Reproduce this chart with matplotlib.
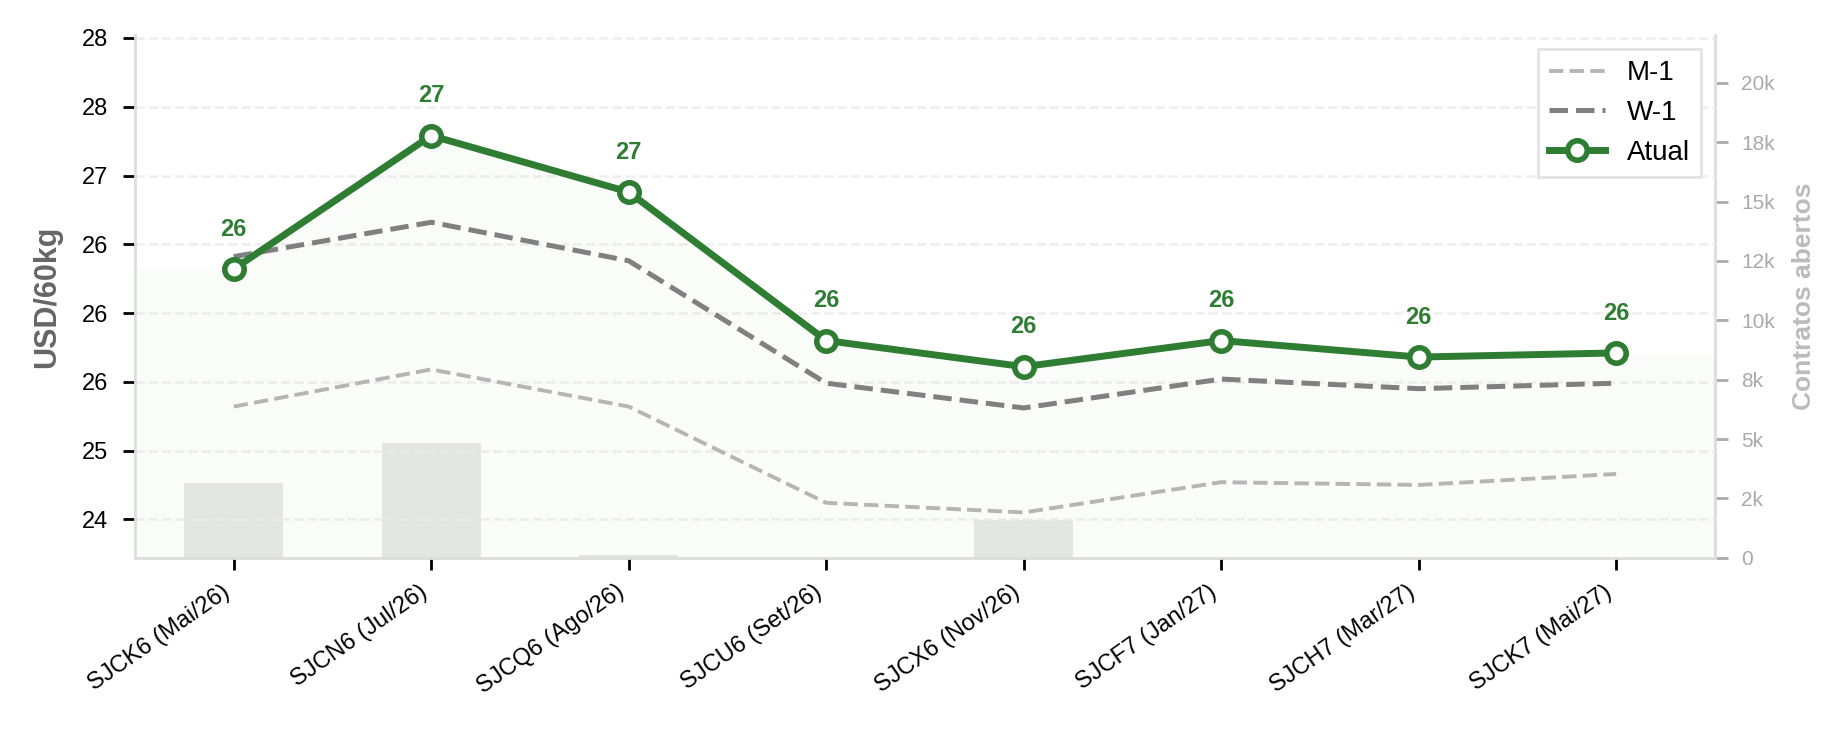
import matplotlib
matplotlib.use("Agg")
import matplotlib.pyplot as plt
from matplotlib.ticker import MultipleLocator, FuncFormatter

plt.rcParams['font.family'] = ['Liberation Sans', 'DejaVu Sans']

# contratos (vencimentos) e precos em USD/60kg
contracts = ["SJCK6 (Mai/26)", "SJCN6 (Jul/26)", "SJCQ6 (Ago/26)", "SJCU6 (Set/26)",
             "SJCX6 (Nov/26)", "SJCF7 (Jan/27)", "SJCH7 (Mar/27)", "SJCK7 (Mai/27)"]
atual = [26.32, 27.29, 26.88, 25.80, 25.61, 25.80, 25.68, 25.71]
w_1 = [26.41, 26.66, 26.38, 25.49, 25.31, 25.52, 25.45, 25.49]
m_1 = [25.32, 25.59, 25.32, 24.62, 24.55, 24.77, 24.75, 24.83]
open_interest = [3130, 4830, 100, 0, 1590, 0, 0, 0]

GREEN = "#2e7d32"

fig, ax = plt.subplots(figsize=(9.23, 3.67), dpi=200)
fig.subplots_adjust(left=0.0731, right=0.929, top=0.952, bottom=0.240)
ax2 = ax.twinx()

x = list(range(len(contracts)))

# open interest bars (behind)
ax2.bar(x, open_interest, width=0.5, color="#e8e9e8", zorder=1)
ax2.set_ylim(0, 22000)
ax2.yaxis.set_major_locator(MultipleLocator(2500))
ax2.yaxis.set_major_formatter(FuncFormatter(lambda v, p: "0" if v == 0 else f"{v/1000:.0f}k"))
ax2.tick_params(axis="y", colors="#aaaaaa", labelcolor="#aaaaaa", labelsize=7.5, length=4.5, width=1, pad=5)
ax2.set_ylabel("Contratos abertos", color="#bbbbbb", fontsize=9.5, fontweight="bold", labelpad=6)
for s in ["top", "left", "bottom"]:
    ax2.spines[s].set_visible(False)
ax2.spines["right"].set_color("#dddddd")
ax2.spines["right"].set_linewidth(1.0)

ax.set_zorder(ax2.get_zorder() + 1)
ax.patch.set_visible(False)

# faint fill under current curve
xf = [-0.5] + x + [7.5]
yf = [atual[0]] + atual + [atual[-1]]
ax.fill_between(xf, yf, 24.0, color=GREEN, alpha=0.02, linewidth=0, zorder=1)

ax.plot(x, m_1, ls="--", color="#b5b5b5", lw=1.4, label="M-1", zorder=3)
ax.plot(x, w_1, ls="--", color="#808080", lw=1.8, label="W-1", zorder=3)
ax.plot(x, atual, color=GREEN, lw=2.5, marker="o", markersize=7, markerfacecolor="white",
        markeredgecolor=GREEN, markeredgewidth=2, label="Atual", zorder=4)

for xi, v in zip(x, atual):
    ax.annotate(f"{v:.0f}", (xi, v), xytext=(0, 12), textcoords="offset points",
                ha="center", va="baseline", color=GREEN, fontsize=8.5, fontweight="bold")

ax.set_xlim(-0.5, 7.5)
ax.set_ylim(24.22, 28.02)
ax.yaxis.set_major_locator(MultipleLocator(0.5))
ax.yaxis.set_major_formatter(FuncFormatter(lambda v, p: f"{v:.0f}"))
ax.set_xticks(x)
ax.set_xticklabels(contracts, rotation=35, ha="right", fontsize=8.5)
ax.tick_params(axis="y", labelsize=8.5, length=4.2, width=1, pad=5.5, colors="black")
ax.tick_params(axis="x", length=4.2, width=1, pad=4, colors="black")
ax.grid(axis="y", ls="--", color="#eeeeee", lw=0.9, zorder=0)
ax.set_axisbelow(True)
ax.set_ylabel("USD/60kg", color="#666666", fontsize=11, fontweight="bold", labelpad=7)

ax.spines["top"].set_visible(False)
ax.spines["right"].set_visible(False)
for s in ["left", "bottom"]:
    ax.spines[s].set_color("#dddddd")
    ax.spines[s].set_linewidth(1.0)

leg = ax.legend(loc="upper right", fontsize=10, fancybox=False, framealpha=1,
                edgecolor="#e3e3e3")
leg.get_frame().set_linewidth(1.0)

fig.savefig("out.png", dpi=200)
